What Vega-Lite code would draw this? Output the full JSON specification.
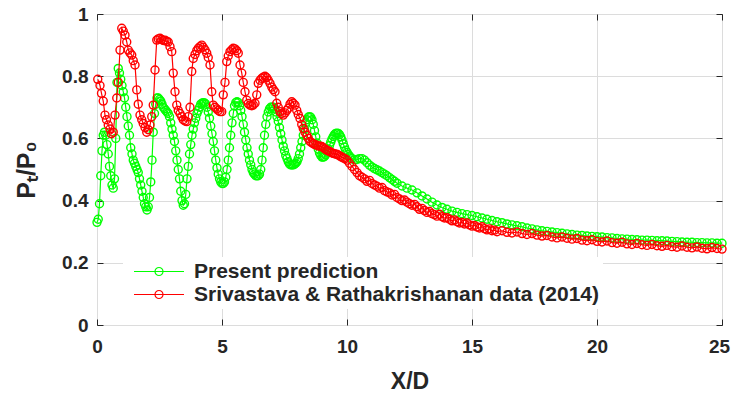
{
"$schema":"https://vega.github.io/schema/vega-lite/v6.json",
"width":625,"height":311,
"autosize":"none",
"padding":{"left":97,"top":14,"right":9,"bottom":74},
"background":"white",
"config":{"view":{"stroke":"#262626","strokeWidth":1},
"axis":{"labelFont":"Liberation Sans","labelFontWeight":"bold","labelFontSize":19,"labelColor":"#262626","titleFont":"Liberation Sans","titleFontWeight":"bold","titleFontSize":23,"titleColor":"#262626","gridColor":"#dcdcdc","tickColor":"#262626","domain":false,"tickSize":-6,"labelFlush":false,"labelOverlap":false}},
"data":{"values":[
{"s":"P","x":0,"y":0.33},{"s":"P","x":0.05,"y":0.34},{"s":"P","x":0.1,"y":0.39},{"s":"P","x":0.15,"y":0.48},{"s":"P","x":0.2,"y":0.56},{"s":"P","x":0.25,"y":0.61},{"s":"P","x":0.3,"y":0.62},{"s":"P","x":0.35,"y":0.61},{"s":"P","x":0.4,"y":0.58},{"s":"P","x":0.45,"y":0.55},{"s":"P","x":0.5,"y":0.51},{"s":"P","x":0.55,"y":0.48},{"s":"P","x":0.6,"y":0.45},{"s":"P","x":0.65,"y":0.44},{"s":"P","x":0.7,"y":0.47},{"s":"P","x":0.75,"y":0.6},{"s":"P","x":0.8,"y":0.78},{"s":"P","x":0.85,"y":0.825},{"s":"P","x":0.9,"y":0.81},{"s":"P","x":0.95,"y":0.79},
{"s":"P","x":1,"y":0.77},{"s":"P","x":1.05,"y":0.75},{"s":"P","x":1.1,"y":0.73},{"s":"P","x":1.15,"y":0.7},{"s":"P","x":1.2,"y":0.67},{"s":"P","x":1.25,"y":0.64},{"s":"P","x":1.3,"y":0.61},{"s":"P","x":1.35,"y":0.57},{"s":"P","x":1.4,"y":0.55},{"s":"P","x":1.45,"y":0.53},{"s":"P","x":1.5,"y":0.52},{"s":"P","x":1.55,"y":0.51},{"s":"P","x":1.6,"y":0.5},{"s":"P","x":1.65,"y":0.49},{"s":"P","x":1.7,"y":0.47},{"s":"P","x":1.75,"y":0.45},{"s":"P","x":1.8,"y":0.43},{"s":"P","x":1.85,"y":0.41},{"s":"P","x":1.9,"y":0.39},{"s":"P","x":1.95,"y":0.38},
{"s":"P","x":2,"y":0.37},{"s":"P","x":2.05,"y":0.38},{"s":"P","x":2.1,"y":0.41},{"s":"P","x":2.15,"y":0.46},{"s":"P","x":2.2,"y":0.53},{"s":"P","x":2.25,"y":0.62},{"s":"P","x":2.3,"y":0.68},{"s":"P","x":2.35,"y":0.71},{"s":"P","x":2.4,"y":0.73},{"s":"P","x":2.45,"y":0.73},{"s":"P","x":2.5,"y":0.725},{"s":"P","x":2.55,"y":0.72},{"s":"P","x":2.6,"y":0.71},{"s":"P","x":2.65,"y":0.7},{"s":"P","x":2.7,"y":0.695},{"s":"P","x":2.75,"y":0.69},{"s":"P","x":2.8,"y":0.685},{"s":"P","x":2.85,"y":0.68},{"s":"P","x":2.9,"y":0.67},{"s":"P","x":2.95,"y":0.65},
{"s":"P","x":3,"y":0.63},{"s":"P","x":3.05,"y":0.61},{"s":"P","x":3.1,"y":0.59},{"s":"P","x":3.15,"y":0.56},{"s":"P","x":3.2,"y":0.53},{"s":"P","x":3.25,"y":0.5},{"s":"P","x":3.3,"y":0.47},{"s":"P","x":3.35,"y":0.43},{"s":"P","x":3.4,"y":0.4},{"s":"P","x":3.45,"y":0.385},{"s":"P","x":3.5,"y":0.39},{"s":"P","x":3.55,"y":0.42},{"s":"P","x":3.6,"y":0.47},{"s":"P","x":3.65,"y":0.51},{"s":"P","x":3.7,"y":0.55},{"s":"P","x":3.75,"y":0.58},{"s":"P","x":3.8,"y":0.61},{"s":"P","x":3.85,"y":0.63},{"s":"P","x":3.9,"y":0.65},{"s":"P","x":3.95,"y":0.665},
{"s":"P","x":4,"y":0.68},{"s":"P","x":4.05,"y":0.69},{"s":"P","x":4.1,"y":0.7},{"s":"P","x":4.15,"y":0.71},{"s":"P","x":4.2,"y":0.713},{"s":"P","x":4.25,"y":0.715},{"s":"P","x":4.3,"y":0.714},{"s":"P","x":4.35,"y":0.71},{"s":"P","x":4.4,"y":0.7},{"s":"P","x":4.45,"y":0.685},{"s":"P","x":4.5,"y":0.665},{"s":"P","x":4.55,"y":0.64},{"s":"P","x":4.6,"y":0.615},{"s":"P","x":4.65,"y":0.59},{"s":"P","x":4.7,"y":0.56},{"s":"P","x":4.75,"y":0.53},{"s":"P","x":4.8,"y":0.505},{"s":"P","x":4.85,"y":0.485},{"s":"P","x":4.9,"y":0.47},{"s":"P","x":4.95,"y":0.46},
{"s":"P","x":5,"y":0.455},{"s":"P","x":5.05,"y":0.455},{"s":"P","x":5.1,"y":0.46},{"s":"P","x":5.15,"y":0.475},{"s":"P","x":5.2,"y":0.5},{"s":"P","x":5.25,"y":0.53},{"s":"P","x":5.3,"y":0.57},{"s":"P","x":5.35,"y":0.61},{"s":"P","x":5.4,"y":0.65},{"s":"P","x":5.45,"y":0.68},{"s":"P","x":5.5,"y":0.705},{"s":"P","x":5.55,"y":0.715},{"s":"P","x":5.6,"y":0.718},{"s":"P","x":5.65,"y":0.715},{"s":"P","x":5.7,"y":0.705},{"s":"P","x":5.75,"y":0.69},{"s":"P","x":5.8,"y":0.67},{"s":"P","x":5.85,"y":0.645},{"s":"P","x":5.9,"y":0.62},{"s":"P","x":5.95,"y":0.595},
{"s":"P","x":6,"y":0.57},{"s":"P","x":6.05,"y":0.55},{"s":"P","x":6.1,"y":0.53},{"s":"P","x":6.15,"y":0.515},{"s":"P","x":6.2,"y":0.5},{"s":"P","x":6.25,"y":0.49},{"s":"P","x":6.3,"y":0.485},{"s":"P","x":6.35,"y":0.48},{"s":"P","x":6.4,"y":0.48},{"s":"P","x":6.45,"y":0.48},{"s":"P","x":6.5,"y":0.485},{"s":"P","x":6.55,"y":0.5},{"s":"P","x":6.6,"y":0.53},{"s":"P","x":6.65,"y":0.57},{"s":"P","x":6.7,"y":0.61},{"s":"P","x":6.75,"y":0.645},{"s":"P","x":6.8,"y":0.67},{"s":"P","x":6.85,"y":0.685},{"s":"P","x":6.9,"y":0.695},{"s":"P","x":6.95,"y":0.7},
{"s":"P","x":7,"y":0.7},{"s":"P","x":7.05,"y":0.7},{"s":"P","x":7.1,"y":0.695},{"s":"P","x":7.15,"y":0.685},{"s":"P","x":7.2,"y":0.67},{"s":"P","x":7.25,"y":0.655},{"s":"P","x":7.3,"y":0.635},{"s":"P","x":7.35,"y":0.615},{"s":"P","x":7.4,"y":0.595},{"s":"P","x":7.45,"y":0.575},{"s":"P","x":7.5,"y":0.56},{"s":"P","x":7.55,"y":0.545},{"s":"P","x":7.6,"y":0.535},{"s":"P","x":7.65,"y":0.525},{"s":"P","x":7.7,"y":0.518},{"s":"P","x":7.75,"y":0.515},{"s":"P","x":7.8,"y":0.515},{"s":"P","x":7.85,"y":0.515},{"s":"P","x":7.9,"y":0.517},{"s":"P","x":7.95,"y":0.52},
{"s":"P","x":8,"y":0.525},{"s":"P","x":8.05,"y":0.535},{"s":"P","x":8.1,"y":0.55},{"s":"P","x":8.15,"y":0.57},{"s":"P","x":8.2,"y":0.59},{"s":"P","x":8.25,"y":0.61},{"s":"P","x":8.3,"y":0.63},{"s":"P","x":8.35,"y":0.65},{"s":"P","x":8.4,"y":0.66},{"s":"P","x":8.45,"y":0.668},{"s":"P","x":8.5,"y":0.67},{"s":"P","x":8.55,"y":0.668},{"s":"P","x":8.6,"y":0.66},{"s":"P","x":8.65,"y":0.645},{"s":"P","x":8.7,"y":0.625},{"s":"P","x":8.75,"y":0.605},{"s":"P","x":8.8,"y":0.585},{"s":"P","x":8.85,"y":0.565},{"s":"P","x":8.9,"y":0.553},{"s":"P","x":8.95,"y":0.545},
{"s":"P","x":9,"y":0.54},{"s":"P","x":9.05,"y":0.54},{"s":"P","x":9.1,"y":0.542},{"s":"P","x":9.15,"y":0.548},{"s":"P","x":9.2,"y":0.556},{"s":"P","x":9.25,"y":0.566},{"s":"P","x":9.3,"y":0.577},{"s":"P","x":9.35,"y":0.588},{"s":"P","x":9.4,"y":0.598},{"s":"P","x":9.45,"y":0.606},{"s":"P","x":9.5,"y":0.612},{"s":"P","x":9.55,"y":0.616},{"s":"P","x":9.6,"y":0.617},{"s":"P","x":9.65,"y":0.616},{"s":"P","x":9.7,"y":0.612},{"s":"P","x":9.75,"y":0.605},{"s":"P","x":9.8,"y":0.595},{"s":"P","x":9.85,"y":0.583},{"s":"P","x":9.9,"y":0.572},{"s":"P","x":9.95,"y":0.562},
{"s":"P","x":10,"y":0.555},{"s":"P","x":10.05,"y":0.548},{"s":"P","x":10.1,"y":0.543},{"s":"P","x":10.15,"y":0.538},{"s":"P","x":10.2,"y":0.535},{"s":"P","x":10.3,"y":0.531},{"s":"P","x":10.4,"y":0.532},{"s":"P","x":10.5,"y":0.535},{"s":"P","x":10.6,"y":0.535},{"s":"P","x":10.7,"y":0.53},{"s":"P","x":10.8,"y":0.522},{"s":"P","x":10.9,"y":0.514},{"s":"P","x":11,"y":0.508},{"s":"P","x":11.1,"y":0.503},{"s":"P","x":11.2,"y":0.499},{"s":"P","x":11.3,"y":0.495},{"s":"P","x":11.4,"y":0.49},{"s":"P","x":11.5,"y":0.485},{"s":"P","x":11.6,"y":0.48},{"s":"P","x":11.7,"y":0.474},{"s":"P","x":11.8,"y":0.468},{"s":"P","x":11.9,"y":0.462},
{"s":"P","x":12,"y":0.456},{"s":"P","x":12.2,"y":0.447},{"s":"P","x":12.4,"y":0.44},{"s":"P","x":12.6,"y":0.434},{"s":"P","x":12.8,"y":0.425},{"s":"P","x":13,"y":0.415},{"s":"P","x":13.2,"y":0.405},{"s":"P","x":13.4,"y":0.395},{"s":"P","x":13.6,"y":0.386},{"s":"P","x":13.8,"y":0.378},{"s":"P","x":14,"y":0.372},{"s":"P","x":14.2,"y":0.366},{"s":"P","x":14.4,"y":0.362},{"s":"P","x":14.6,"y":0.358},{"s":"P","x":14.8,"y":0.355},{"s":"P","x":15,"y":0.352},{"s":"P","x":15.2,"y":0.348},{"s":"P","x":15.4,"y":0.344},{"s":"P","x":15.6,"y":0.34},{"s":"P","x":15.8,"y":0.336},
{"s":"P","x":16,"y":0.332},{"s":"P","x":16.2,"y":0.329},{"s":"P","x":16.4,"y":0.325},{"s":"P","x":16.6,"y":0.322},{"s":"P","x":16.8,"y":0.319},{"s":"P","x":17,"y":0.316},{"s":"P","x":17.2,"y":0.312},{"s":"P","x":17.4,"y":0.309},{"s":"P","x":17.6,"y":0.306},{"s":"P","x":17.8,"y":0.303},{"s":"P","x":18,"y":0.301},{"s":"P","x":18.2,"y":0.299},{"s":"P","x":18.4,"y":0.297},{"s":"P","x":18.6,"y":0.295},{"s":"P","x":18.8,"y":0.293},{"s":"P","x":19,"y":0.291},{"s":"P","x":19.2,"y":0.289},{"s":"P","x":19.4,"y":0.288},{"s":"P","x":19.6,"y":0.286},{"s":"P","x":19.8,"y":0.285},
{"s":"P","x":20,"y":0.284},{"s":"P","x":20.2,"y":0.283},{"s":"P","x":20.4,"y":0.281},{"s":"P","x":20.6,"y":0.28},{"s":"P","x":20.8,"y":0.278},{"s":"P","x":21,"y":0.277},{"s":"P","x":21.2,"y":0.276},{"s":"P","x":21.4,"y":0.275},{"s":"P","x":21.6,"y":0.274},{"s":"P","x":21.8,"y":0.273},{"s":"P","x":22,"y":0.273},{"s":"P","x":22.2,"y":0.272},{"s":"P","x":22.4,"y":0.271},{"s":"P","x":22.6,"y":0.271},{"s":"P","x":22.8,"y":0.27},{"s":"P","x":23,"y":0.269},{"s":"P","x":23.2,"y":0.268},{"s":"P","x":23.4,"y":0.267},{"s":"P","x":23.6,"y":0.266},{"s":"P","x":23.8,"y":0.266},
{"s":"P","x":24,"y":0.265},{"s":"P","x":24.2,"y":0.265},{"s":"P","x":24.4,"y":0.264},{"s":"P","x":24.6,"y":0.264},{"s":"P","x":24.8,"y":0.263},{"s":"P","x":25,"y":0.263},
{"s":"S","x":0.03,"y":0.79},{"s":"S","x":0.12,"y":0.77},{"s":"S","x":0.18,"y":0.745},{"s":"S","x":0.25,"y":0.72},{"s":"S","x":0.32,"y":0.675},{"s":"S","x":0.38,"y":0.66},{"s":"S","x":0.45,"y":0.643},{"s":"S","x":0.52,"y":0.63},{"s":"S","x":0.58,"y":0.615},{"s":"S","x":0.65,"y":0.62},{"s":"S","x":0.72,"y":0.675},{"s":"S","x":0.79,"y":0.73},{"s":"S","x":0.85,"y":0.78},{"s":"S","x":0.92,"y":0.884},{"s":"S","x":0.99,"y":0.954},
{"s":"S","x":1.05,"y":0.945},{"s":"S","x":1.12,"y":0.932},{"s":"S","x":1.19,"y":0.91},{"s":"S","x":1.25,"y":0.884},{"s":"S","x":1.32,"y":0.875},{"s":"S","x":1.39,"y":0.868},{"s":"S","x":1.45,"y":0.85},{"s":"S","x":1.52,"y":0.836},{"s":"S","x":1.59,"y":0.756},{"s":"S","x":1.65,"y":0.71},{"s":"S","x":1.72,"y":0.675},{"s":"S","x":1.79,"y":0.66},{"s":"S","x":1.85,"y":0.648},{"s":"S","x":1.92,"y":0.635},{"s":"S","x":1.99,"y":0.62},
{"s":"S","x":2.05,"y":0.628},{"s":"S","x":2.12,"y":0.643},{"s":"S","x":2.19,"y":0.67},{"s":"S","x":2.25,"y":0.707},{"s":"S","x":2.32,"y":0.82},{"s":"S","x":2.39,"y":0.916},{"s":"S","x":2.45,"y":0.92},{"s":"S","x":2.52,"y":0.922},{"s":"S","x":2.59,"y":0.918},{"s":"S","x":2.65,"y":0.915},{"s":"S","x":2.72,"y":0.916},{"s":"S","x":2.79,"y":0.912},{"s":"S","x":2.85,"y":0.91},{"s":"S","x":2.92,"y":0.895},{"s":"S","x":2.99,"y":0.879},
{"s":"S","x":3.05,"y":0.81},{"s":"S","x":3.12,"y":0.75},{"s":"S","x":3.19,"y":0.707},{"s":"S","x":3.25,"y":0.69},{"s":"S","x":3.32,"y":0.68},{"s":"S","x":3.39,"y":0.67},{"s":"S","x":3.45,"y":0.66},{"s":"S","x":3.52,"y":0.656},{"s":"S","x":3.59,"y":0.654},{"s":"S","x":3.65,"y":0.67},{"s":"S","x":3.72,"y":0.7},{"s":"S","x":3.79,"y":0.815},{"s":"S","x":3.85,"y":0.857},{"s":"S","x":3.92,"y":0.87},{"s":"S","x":3.99,"y":0.882},
{"s":"S","x":4.05,"y":0.89},{"s":"S","x":4.12,"y":0.895},{"s":"S","x":4.19,"y":0.9},{"s":"S","x":4.25,"y":0.893},{"s":"S","x":4.32,"y":0.885},{"s":"S","x":4.39,"y":0.874},{"s":"S","x":4.45,"y":0.86},{"s":"S","x":4.52,"y":0.836},{"s":"S","x":4.59,"y":0.75},{"s":"S","x":4.65,"y":0.707},{"s":"S","x":4.72,"y":0.7},{"s":"S","x":4.79,"y":0.695},{"s":"S","x":4.85,"y":0.69},{"s":"S","x":4.92,"y":0.686},{"s":"S","x":4.99,"y":0.686},
{"s":"S","x":5.05,"y":0.74},{"s":"S","x":5.12,"y":0.78},{"s":"S","x":5.19,"y":0.847},{"s":"S","x":5.25,"y":0.865},{"s":"S","x":5.32,"y":0.879},{"s":"S","x":5.39,"y":0.885},{"s":"S","x":5.45,"y":0.89},{"s":"S","x":5.52,"y":0.888},{"s":"S","x":5.59,"y":0.882},{"s":"S","x":5.65,"y":0.874},{"s":"S","x":5.72,"y":0.836},{"s":"S","x":5.79,"y":0.81},{"s":"S","x":5.85,"y":0.78},{"s":"S","x":5.92,"y":0.75},{"s":"S","x":5.99,"y":0.723},
{"s":"S","x":6.05,"y":0.712},{"s":"S","x":6.12,"y":0.707},{"s":"S","x":6.19,"y":0.705},{"s":"S","x":6.25,"y":0.708},{"s":"S","x":6.32,"y":0.713},{"s":"S","x":6.39,"y":0.74},{"s":"S","x":6.45,"y":0.777},{"s":"S","x":6.52,"y":0.787},{"s":"S","x":6.59,"y":0.793},{"s":"S","x":6.65,"y":0.797},{"s":"S","x":6.72,"y":0.8},{"s":"S","x":6.79,"y":0.795},{"s":"S","x":6.85,"y":0.787},{"s":"S","x":6.92,"y":0.777},{"s":"S","x":6.99,"y":0.765},
{"s":"S","x":7.05,"y":0.757},{"s":"S","x":7.12,"y":0.75},{"s":"S","x":7.19,"y":0.713},{"s":"S","x":7.25,"y":0.7},{"s":"S","x":7.32,"y":0.686},{"s":"S","x":7.39,"y":0.68},{"s":"S","x":7.45,"y":0.675},{"s":"S","x":7.52,"y":0.682},{"s":"S","x":7.59,"y":0.69},{"s":"S","x":7.65,"y":0.697},{"s":"S","x":7.72,"y":0.71},{"s":"S","x":7.79,"y":0.718},{"s":"S","x":7.85,"y":0.713},{"s":"S","x":7.92,"y":0.707},{"s":"S","x":7.99,"y":0.69},
{"s":"S","x":8.05,"y":0.677},{"s":"S","x":8.12,"y":0.664},{"s":"S","x":8.19,"y":0.645},{"s":"S","x":8.25,"y":0.632},{"s":"S","x":8.32,"y":0.62},{"s":"S","x":8.39,"y":0.61},{"s":"S","x":8.45,"y":0.6},{"s":"S","x":8.52,"y":0.59},{"s":"S","x":8.59,"y":0.586},{"s":"S","x":8.65,"y":0.583},{"s":"S","x":8.72,"y":0.58},{"s":"S","x":8.79,"y":0.578},{"s":"S","x":8.85,"y":0.576},{"s":"S","x":8.92,"y":0.575},{"s":"S","x":8.99,"y":0.574},
{"s":"S","x":9.05,"y":0.57},{"s":"S","x":9.12,"y":0.566},{"s":"S","x":9.19,"y":0.562},{"s":"S","x":9.25,"y":0.56},{"s":"S","x":9.32,"y":0.557},{"s":"S","x":9.39,"y":0.554},{"s":"S","x":9.45,"y":0.552},{"s":"S","x":9.52,"y":0.55},{"s":"S","x":9.59,"y":0.549},{"s":"S","x":9.65,"y":0.547},{"s":"S","x":9.72,"y":0.543},{"s":"S","x":9.79,"y":0.54},{"s":"S","x":9.85,"y":0.537},{"s":"S","x":9.92,"y":0.535},
{"s":"S","x":10,"y":0.53},{"s":"S","x":10.1,"y":0.52},{"s":"S","x":10.2,"y":0.51},{"s":"S","x":10.3,"y":0.5},{"s":"S","x":10.4,"y":0.49},{"s":"S","x":10.5,"y":0.48},{"s":"S","x":10.6,"y":0.475},{"s":"S","x":10.7,"y":0.47},{"s":"S","x":10.8,"y":0.462},{"s":"S","x":10.9,"y":0.465},{"s":"S","x":11,"y":0.455},{"s":"S","x":11.1,"y":0.45},{"s":"S","x":11.2,"y":0.446},{"s":"S","x":11.3,"y":0.44},{"s":"S","x":11.4,"y":0.442},{"s":"S","x":11.5,"y":0.432},{"s":"S","x":11.6,"y":0.428},{"s":"S","x":11.7,"y":0.425},{"s":"S","x":11.8,"y":0.418},{"s":"S","x":11.9,"y":0.42},
{"s":"S","x":12,"y":0.41},{"s":"S","x":12.1,"y":0.405},{"s":"S","x":12.2,"y":0.4},{"s":"S","x":12.3,"y":0.402},{"s":"S","x":12.4,"y":0.395},{"s":"S","x":12.5,"y":0.39},{"s":"S","x":12.6,"y":0.385},{"s":"S","x":12.7,"y":0.388},{"s":"S","x":12.8,"y":0.38},{"s":"S","x":12.9,"y":0.372},{"s":"S","x":13,"y":0.375},{"s":"S","x":13.1,"y":0.368},{"s":"S","x":13.2,"y":0.362},{"s":"S","x":13.3,"y":0.365},{"s":"S","x":13.4,"y":0.358},{"s":"S","x":13.5,"y":0.355},{"s":"S","x":13.6,"y":0.35},{"s":"S","x":13.7,"y":0.356},{"s":"S","x":13.8,"y":0.348},{"s":"S","x":13.9,"y":0.344},
{"s":"S","x":14,"y":0.345},{"s":"S","x":14.1,"y":0.34},{"s":"S","x":14.2,"y":0.335},{"s":"S","x":14.3,"y":0.338},{"s":"S","x":14.4,"y":0.332},{"s":"S","x":14.5,"y":0.328},{"s":"S","x":14.6,"y":0.33},{"s":"S","x":14.7,"y":0.325},{"s":"S","x":14.8,"y":0.328},{"s":"S","x":14.9,"y":0.322},{"s":"S","x":15,"y":0.318},{"s":"S","x":15.1,"y":0.32},{"s":"S","x":15.2,"y":0.315},{"s":"S","x":15.3,"y":0.312},{"s":"S","x":15.4,"y":0.316},{"s":"S","x":15.5,"y":0.31},{"s":"S","x":15.6,"y":0.306},{"s":"S","x":15.7,"y":0.309},{"s":"S","x":15.8,"y":0.303},{"s":"S","x":15.9,"y":0.305},
{"s":"S","x":16,"y":0.3},{"s":"S","x":16.2,"y":0.303},{"s":"S","x":16.4,"y":0.298},{"s":"S","x":16.6,"y":0.296},{"s":"S","x":16.8,"y":0.299},{"s":"S","x":17,"y":0.294},{"s":"S","x":17.2,"y":0.291},{"s":"S","x":17.4,"y":0.294},{"s":"S","x":17.6,"y":0.289},{"s":"S","x":17.8,"y":0.286},{"s":"S","x":18,"y":0.288},{"s":"S","x":18.2,"y":0.283},{"s":"S","x":18.4,"y":0.28},{"s":"S","x":18.6,"y":0.283},{"s":"S","x":18.8,"y":0.279},{"s":"S","x":19,"y":0.276},{"s":"S","x":19.2,"y":0.278},{"s":"S","x":19.4,"y":0.273},{"s":"S","x":19.6,"y":0.271},{"s":"S","x":19.8,"y":0.274},
{"s":"S","x":20,"y":0.269},{"s":"S","x":20.2,"y":0.267},{"s":"S","x":20.4,"y":0.27},{"s":"S","x":20.6,"y":0.265},{"s":"S","x":20.8,"y":0.263},{"s":"S","x":21,"y":0.266},{"s":"S","x":21.2,"y":0.261},{"s":"S","x":21.4,"y":0.259},{"s":"S","x":21.6,"y":0.262},{"s":"S","x":21.8,"y":0.258},{"s":"S","x":22,"y":0.256},{"s":"S","x":22.2,"y":0.259},{"s":"S","x":22.4,"y":0.255},{"s":"S","x":22.6,"y":0.253},{"s":"S","x":22.8,"y":0.256},{"s":"S","x":23,"y":0.252},{"s":"S","x":23.2,"y":0.25},{"s":"S","x":23.4,"y":0.254},{"s":"S","x":23.6,"y":0.25},{"s":"S","x":23.8,"y":0.248},
{"s":"S","x":24,"y":0.251},{"s":"S","x":24.2,"y":0.247},{"s":"S","x":24.4,"y":0.245},{"s":"S","x":24.6,"y":0.249},{"s":"S","x":24.8,"y":0.246},{"s":"S","x":25,"y":0.244}
]},
"resolve":{"axis":{"x":"independent","y":"independent"}},
"layer":[
{"transform":[{"filter":"datum.s=='P'"}],
 "mark":{"type":"line","strokeWidth":1.2},
 "encoding":{
  "x":{"field":"x","type":"quantitative","scale":{"domain":[0,25],"nice":false},"axis":{"values":[0,5,10,15,20,25],"title":"X/D","labelPadding":18,"titlePadding":14,"labelOffset":{"condition":{"test":"datum.value == 25","value":-3},"value":0}}},
  "y":{"field":"y","type":"quantitative","scale":{"domain":[0,1],"nice":false},"axis":{"values":[0,0.2,0.4,0.6,0.8,1],"format":"~g","title":"Pₜ/P₀","labelPadding":15,"titlePadding":22,"titleFontSize":25}},
  "color":{"field":"s","type":"nominal","scale":{"domain":["P","S"],"range":["#00ff00","#ff0000"]},
   "legend":{"orient":"none","legendX":26,"legendY":243,"title":null,"fillColor":"white","padding":3,"symbolType":"M-1,0H1M-0.16,0A0.16,0.16 0 1,0 0.16,0A0.16,0.16 0 1,0 -0.16,0","symbolSize":2500,"symbolStrokeWidth":1.2,"symbolFillColor":"transparent","symbolOffset":7,"clipHeight":23,"rowPadding":0,"labelOffset":9,"labelFont":"Liberation Sans","labelFontSize":21,"labelFontWeight":"bold","labelColor":"#262626","labelLimit":700,"labelExpr":"datum.value == 'P' ? 'Present prediction' : 'Srivastava & Rathakrishanan data (2014)'"}}}},
{"transform":[{"filter":"datum.s=='P'"}],
 "mark":{"type":"point","filled":false,"size":64,"strokeWidth":1.4,"opacity":1},
 "encoding":{
  "x":{"field":"x","type":"quantitative","axis":{"orient":"top","values":[0,5,10,15,20,25],"labels":false,"grid":false,"title":null}},
  "y":{"field":"y","type":"quantitative","axis":{"orient":"right","values":[0,0.2,0.4,0.6,0.8,1],"labels":false,"grid":false,"title":null}},
  "color":{"field":"s","type":"nominal"}}},
{"transform":[{"filter":"datum.s=='S'"}],
 "mark":{"type":"line","strokeWidth":1.2},
 "encoding":{
  "x":{"field":"x","type":"quantitative","axis":null},
  "y":{"field":"y","type":"quantitative","axis":null},
  "color":{"field":"s","type":"nominal"}}},
{"transform":[{"filter":"datum.s=='S'"}],
 "mark":{"type":"point","filled":false,"size":64,"strokeWidth":1.4,"opacity":1},
 "encoding":{
  "x":{"field":"x","type":"quantitative","axis":null},
  "y":{"field":"y","type":"quantitative","axis":null},
  "color":{"field":"s","type":"nominal"}}}
]
}
